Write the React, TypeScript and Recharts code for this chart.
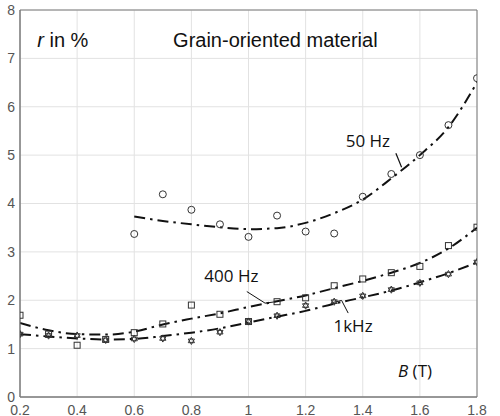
import React from "react"
import {
  ComposedChart,
  Line,
  Scatter,
  XAxis,
  YAxis,
  CartesianGrid,
  ReferenceArea,
  ReferenceLine,
  ReferenceDot,
} from "recharts"

// flux density B (T)
const bMeasured = [0.2, 0.3, 0.4, 0.5, 0.6, 0.7, 0.8, 0.9, 1.0, 1.1, 1.2, 1.3, 1.4, 1.5, 1.6, 1.7, 1.8]
const b50 = [0.6, 0.7, 0.8, 0.9, 1.0, 1.1, 1.2, 1.3, 1.4, 1.5, 1.6, 1.7, 1.8]

// measured r in %
const r50 = [3.37, 4.19, 3.87, 3.57, 3.31, 3.75, 3.42, 3.38, 4.14, 4.61, 5.0, 5.62, 6.59]
const r400 = [1.69, 1.3, 1.07, 1.19, 1.33, 1.51, 1.9, 1.71, 1.56, 1.97, 2.05, 2.3, 2.44, 2.57, 2.7, 3.13, 3.51]
const r1k = [1.3, 1.27, 1.27, 1.18, 1.2, 1.21, 1.16, 1.34, 1.56, 1.68, 1.89, 1.97, 2.09, 2.22, 2.36, 2.54, 2.79]

// fitted curves
const fit50 = [3.73, 3.64, 3.57, 3.51, 3.47, 3.49, 3.6, 3.8, 4.08, 4.52, 5.0, 5.58, 6.5]
const fit400 = [1.53, 1.38, 1.3, 1.29, 1.35, 1.5, 1.62, 1.73, 1.86, 1.98, 2.1, 2.25, 2.4, 2.57, 2.77, 3.07, 3.5]
const fit1k = [1.3, 1.25, 1.21, 1.19, 1.2, 1.26, 1.33, 1.42, 1.54, 1.66, 1.78, 1.93, 2.06, 2.2, 2.37, 2.56, 2.78]

const xTicks = [0.2, 0.4, 0.6, 0.8, 1.0, 1.2, 1.4, 1.6, 1.8]
const yTicks = [0, 1, 2, 3, 4, 5, 6, 7, 8]

const pts = (xs: number[], ys: number[]) => xs.map((x, i) => ({ x, y: ys[i] }))

const dashDot = "11 5 2.5 5"
const markStroke = "#333"

const CircleMark = (p: any) => <circle cx={p.cx} cy={p.cy} r={3.5} fill="none" stroke={markStroke} strokeWidth={1} />
const SquareMark = (p: any) => (
  <rect x={p.cx - 3} y={p.cy - 3} width={6} height={6} fill="none" stroke={markStroke} strokeWidth={1} />
)
const StarMark = (p: any) => {
  const { cx, cy } = p
  const r = 3.6
  const tri = (a0: number) =>
    [0, 1, 2]
      .map((k) => {
        const a = a0 + (k * 2 * Math.PI) / 3
        return `${cx + r * Math.cos(a)},${cy + r * Math.sin(a)}`
      })
      .join(" ")
  return (
    <g fill="none" stroke={markStroke} strokeWidth={1}>
      <polygon points={tri(-Math.PI / 2)} />
      <polygon points={tri(Math.PI / 2)} />
    </g>
  )
}

const note = (text: React.ReactNode, size: number, family: string, anchor = "middle") => (props: any) => {
  const vb = props.viewBox || {}
  const x = vb.x + (vb.width || 0) / 2
  const y = vb.y + (vb.height || 0) / 2
  return (
    <text x={x} y={y} dy="0.35em" textAnchor={anchor} fontSize={size} fontFamily={family} fill="#111">
      {text}
    </text>
  )
}

const sans = "Liberation Sans, Arial, sans-serif"
const label = "Open Sans, sans-serif"

export default function App() {
  return (
    <div style={{ position: "fixed", left: 0, top: 0, background: "#fff" }}>
      <ComposedChart width={500} height={416} margin={{ top: 10, right: 23, bottom: 0, left: 0 }}>
        <CartesianGrid stroke="#e2e2e2" strokeWidth={1} />
        <XAxis
          type="number"
          dataKey="x"
          domain={[0.2, 1.8]}
          ticks={xTicks}
          tickFormatter={(v) => `${v}`}
          height={19}
          tickSize={5}
          tickMargin={3}
          tickLine={false}
          axisLine={{ stroke: "#7a7a7a" }}
          tick={{ fill: "#555", fontSize: 14, fontFamily: sans }}
          allowDataOverflow
        />
        <YAxis
          type="number"
          dataKey="y"
          domain={[0, 8]}
          ticks={yTicks}
          width={20}
          tickSize={3}
          tickMargin={2}
          tickLine={false}
          axisLine={{ stroke: "#7a7a7a" }}
          tick={{ fill: "#555", fontSize: 14, fontFamily: sans }}
          allowDataOverflow
        />
        <ReferenceArea x1={0.2} x2={1.8} y1={0} y2={8} fill="none" stroke="#7a7a7a" strokeWidth={1} />

        <Line data={pts(b50, fit50)} dataKey="y" type="monotone" stroke="#111" strokeWidth={2} strokeDasharray={dashDot} dot={false} isAnimationActive={false} />
        <Line data={pts(bMeasured, fit400)} dataKey="y" type="monotone" stroke="#111" strokeWidth={2} strokeDasharray={dashDot} dot={false} isAnimationActive={false} />
        <Line data={pts(bMeasured, fit1k)} dataKey="y" type="monotone" stroke="#111" strokeWidth={2} strokeDasharray={dashDot} dot={false} isAnimationActive={false} />

        <Scatter data={pts(b50, r50)} shape={CircleMark} isAnimationActive={false} />
        <Scatter data={pts(bMeasured, r400)} shape={SquareMark} isAnimationActive={false} />
        <Scatter data={pts(bMeasured, r1k)} shape={StarMark} isAnimationActive={false} />

        {/* leader lines for the curve labels */}
        <ReferenceLine segment={[{ x: 1.516, y: 5.04 }, { x: 1.536, y: 4.75 }]} stroke="#111" strokeWidth={1.2} />
        <ReferenceLine segment={[{ x: 0.994, y: 2.18 }, { x: 1.058, y: 1.94 }]} stroke="#111" strokeWidth={1} />
        <ReferenceLine segment={[{ x: 1.058, y: 1.94 }, { x: 1.096, y: 1.97 }]} stroke="#111" strokeWidth={1} />
        <ReferenceLine segment={[{ x: 1.296, y: 1.955 }, { x: 1.326, y: 1.996 }]} stroke="#111" strokeWidth={1} />
        <ReferenceLine segment={[{ x: 1.326, y: 1.996 }, { x: 1.349, y: 1.735 }]} stroke="#111" strokeWidth={1} />

        <ReferenceDot x={1.418} y={5.3} r={0} fill="none" stroke="none" label={{ content: note("50 Hz", 17, label) }} />
        <ReferenceDot x={0.94} y={2.49} r={0} fill="none" stroke="none" label={{ content: note("400 Hz", 17, label) }} />
        <ReferenceDot x={1.366} y={1.46} r={0} fill="none" stroke="none" label={{ content: note("1kHz", 17, label) }} />
        <ReferenceDot x={1.094} y={7.38} r={0} fill="none" stroke="none" label={{ content: note("Grain-oriented material", 20, sans) }} />
        <ReferenceDot
          x={0.35}
          y={7.38}
          r={0}
          fill="none"
          stroke="none"
          label={{ content: note(<><tspan fontStyle="italic">r</tspan> in %</>, 20, sans) }}
        />
        <ReferenceDot
          x={1.583}
          y={0.54}
          r={0}
          fill="none"
          stroke="none"
          label={{ content: note(<><tspan fontStyle="italic">B</tspan> (T)</>, 17, label) }}
        />
      </ComposedChart>
    </div>
  )
}
